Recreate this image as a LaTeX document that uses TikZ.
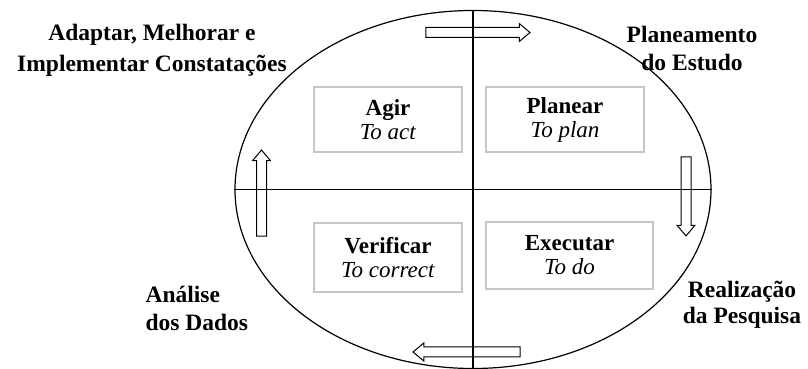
\documentclass[tikz,border=0pt]{standalone}
\usepackage{fontspec}
\setmainfont{Liberation Serif}
\usetikzlibrary{shapes.geometric,shapes.arrows}

\begin{document}
\begin{tikzpicture}[x=1pt,y=1pt,
    caixa/.style={draw=gray!45,line width=1.2pt,align=center,inner sep=0pt,
      font=\fontsize{23}{24}\selectfont},
    seta/.style={single arrow,draw,line width=1pt,inner xsep=0pt,inner ysep=4.5pt,
      single arrow head extend=4pt,single arrow tip angle=80},
    rotulo/.style={font=\fontsize{23.5}{28}\selectfont\bfseries}]
  \useasboundingbox(0,0)rectangle(808,369);
  % ciclo e eixos
  \node[ellipse,draw,line width=1.2pt,inner sep=0pt,minimum width=476,minimum height=358](ciclo)at(473,179.5){};
  \draw[line width=1.2pt](ciclo.north)--(ciclo.south);
  \draw[line width=1.2pt](ciclo.west)--(ciclo.east);
  % quadrantes
  \node[caixa,minimum width=148,minimum height=65](agir)at(388,249.5){\textbf{Agir}\\\textit{To act}};
  \node[caixa,minimum width=158,minimum height=65](planear)at(565,249.5){\textbf{Planear}\\\textit{To plan}};
  \node[caixa,minimum width=148,minimum height=69](verificar)at(388,111.5){\textbf{Verificar}\\\textit{To correct}};
  \node[caixa,minimum width=167,minimum height=67](executar)at(569.5,113.5){\textbf{Executar}\\\textit{To do}};
  % setas
  \node[seta,minimum height=104](setacima)at(475,336.5){};
  \node[seta,minimum height=79,rotate=-90](setadir)at(686,175.5){};
  \node[seta,minimum height=107,rotate=180](setabaixo)at(469.5,17){};
  \node[seta,minimum height=86,rotate=90](setaesq)at(261.5,173){};
  % fases
  \node[rotulo,align=center,font=\fontsize{23.5}{31}\selectfont\bfseries](adaptar)at(152,319){Adaptar, Melhorar e\\Implementar Constatações};
  \node[rotulo,align=center](planeamento)at(692,321){Planeamento\\do Estudo};
  \node[rotulo,align=left,anchor=west](analise)at(142,61){Análise\\dos Dados};
  \node[rotulo,align=center,font=\fontsize{23.5}{26}\selectfont\bfseries](realizacao)at(742,64.5){Realização\\da Pesquisa};
\end{tikzpicture}
\end{document}
